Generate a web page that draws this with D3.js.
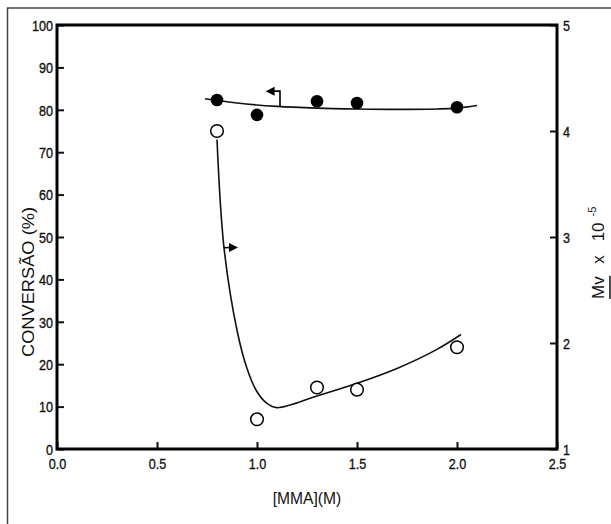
<!DOCTYPE html>
<html>
<head>
<meta charset="utf-8">
<script src="https://cdn.jsdelivr.net/npm/d3@7"></script>
<style>
  body { margin: 0; background: #fff; }
  text { font-family: "Liberation Sans", Arial, sans-serif; fill: #111; }
</style>
</head>
<body>
<script>
// data
const mma = [0.8, 1.0, 1.3, 1.5, 2.0];
const conversao = [82.3, 78.8, 82.0, 81.6, 80.6];
const mvValues = [4.0, 1.28, 1.58, 1.56, 1.96];

// hand drawn trend lines
const convFitX = [0.74, 0.9, 1.1, 1.3, 1.5, 1.7, 1.9, 2.0, 2.1];
const convFitY = [82.6, 81.6, 80.8, 80.4, 80.2, 80.1, 80.2, 80.4, 81.0];
const mvFitX = [0.80, 0.835, 0.90, 0.95, 1.0, 1.05, 1.10, 1.3, 1.5, 1.7, 1.9, 2.02];
const mvFitY = [3.92, 2.9, 2.12, 1.76, 1.54, 1.43, 1.39, 1.5, 1.62, 1.76, 1.94, 2.08];

const xTicks = [0, 0.5, 1.0, 1.5, 2.0, 2.5];
const leftTicks = [0, 10, 20, 30, 40, 50, 60, 70, 80, 90, 100];
const rightTicks = [1, 2, 3, 4, 5];

const width = 611, height = 524;
const margin = { top: 25, right: 54, bottom: 75, left: 57 };
const narrow = 0.84; // fake a condensed face

const svg = d3.select("body").append("svg")
  .attr("width", width)
  .attr("height", height);

// scanned page frame
svg.append("path")
  .attr("d", "M7.5,524 V8 H611")
  .attr("fill", "none")
  .attr("stroke", "#444")
  .attr("stroke-width", 1.5);

const x = d3.scaleLinear().domain([0, 2.5]).range([margin.left, width - margin.right]);
const yL = d3.scaleLinear().domain([0, 100]).range([height - margin.bottom, margin.top]);
const yR = d3.scaleLinear().domain([1, 5]).range([height - margin.bottom, margin.top]);

const x0 = x.range()[0], x1 = x.range()[1];
const yb = yL.range()[0], yt = yL.range()[1];

// axes, ticks inward
const bottom = svg.append("g").attr("transform", `translate(0,${yb})`)
  .call(d3.axisBottom(x).tickValues(xTicks).tickSizeInner(-7).tickSizeOuter(0).tickFormat(d3.format(".1f")));
const left = svg.append("g").attr("transform", `translate(${x0},0)`)
  .call(d3.axisLeft(yL).tickValues(leftTicks).tickSizeInner(-7).tickSizeOuter(0).tickFormat(d3.format("d")));
const right = svg.append("g").attr("transform", `translate(${x1},0)`)
  .call(d3.axisRight(yR).tickValues(rightTicks).tickSizeInner(-7).tickSizeOuter(0).tickFormat(d3.format("d")));

for (const g of [bottom, left, right]) {
  g.select(".domain").remove();
  g.selectAll(".tick line").attr("stroke", "#111").attr("stroke-width", 2);
  g.selectAll(".tick text").attr("font-size", 15).attr("fill", "#111")
    .attr("stroke", "#111").attr("stroke-width", 0.35);
}
bottom.selectAll(".tick text").attr("x", 0).attr("y", 0).attr("dy", "0.35em")
  .attr("transform", `translate(0,15) scale(${narrow},1)`);
left.selectAll(".tick text").attr("x", 0).attr("dy", "0.35em")
  .attr("transform", `translate(-4,0) scale(${narrow},1)`);
right.selectAll(".tick text").attr("x", 0).attr("dy", "0.35em")
  .attr("transform", `translate(6,0) scale(${narrow},1)`);

// plot box
svg.append("rect")
  .attr("x", x0).attr("y", yt)
  .attr("width", x1 - x0).attr("height", yb - yt)
  .attr("fill", "none")
  .attr("stroke", "#000")
  .attr("stroke-width", 3);

// trend lines
const lineL = d3.line().x(d => x(d[0])).y(d => yL(d[1])).curve(d3.curveCatmullRom.alpha(0.5));
const lineR = d3.line().x(d => x(d[0])).y(d => yR(d[1])).curve(d3.curveCatmullRom.alpha(0.5));

svg.append("path")
  .datum(d3.zip(convFitX, convFitY))
  .attr("d", lineL)
  .attr("fill", "none").attr("stroke", "#111").attr("stroke-width", 1.6);

svg.append("path")
  .datum(d3.zip(mvFitX, mvFitY))
  .attr("d", lineR)
  .attr("fill", "none").attr("stroke", "#111").attr("stroke-width", 1.6);

// points
svg.append("g").selectAll("circle")
  .data(d3.zip(mma, conversao))
  .join("circle")
  .attr("cx", d => x(d[0])).attr("cy", d => yL(d[1]))
  .attr("r", 6.3)
  .attr("fill", "#000");

svg.append("g").selectAll("circle")
  .data(d3.zip(mma, mvValues))
  .join("circle")
  .attr("cx", d => x(d[0])).attr("cy", d => yR(d[1]))
  .attr("r", 6.3)
  .attr("fill", "#fff")
  .attr("stroke", "#000")
  .attr("stroke-width", 1.5);

// axis pointer arrows
const arrowUp = [[1.115, 80.7], [1.115, 84.4], [1.06, 84.4]];
svg.append("path")
  .datum(arrowUp)
  .attr("d", d3.line().x(d => x(d[0])).y(d => yL(d[1])))
  .attr("fill", "none").attr("stroke", "#000").attr("stroke-width", 1.6);
{
  const tx = x(1.043), ty = yL(84.4);
  svg.append("path")
    .attr("d", `M${tx},${ty} l9,-4.5 v9 z`)
    .attr("fill", "#000");
}
const arrowDown = [[0.833, 47.5], [0.89, 47.5]];
svg.append("path")
  .datum(arrowDown)
  .attr("d", d3.line().x(d => x(d[0])).y(d => yL(d[1])))
  .attr("fill", "none").attr("stroke", "#000").attr("stroke-width", 1.6);
{
  const tx = x(0.905), ty = yL(47.5);
  svg.append("path")
    .attr("d", `M${tx},${ty} l-9,-4.5 v9 z`)
    .attr("fill", "#000");
}

// axis titles
svg.append("text")
  .attr("transform", `translate(${(x0 + x1) / 2},498) scale(0.92,1)`)
  .attr("dy", "0.35em")
  .attr("text-anchor", "middle")
  .attr("font-size", 17)
  .text("[MMA](M)");

svg.append("text")
  .attr("transform", `translate(28,282) rotate(-90)`)
  .attr("dy", "0.35em")
  .attr("text-anchor", "middle")
  .attr("font-size", 17)
  .attr("textLength", 150)
  .attr("lengthAdjust", "spacingAndGlyphs")
  .text("CONVERSÃO (%)");

const rl = svg.append("g").attr("transform", "translate(598,299) rotate(-90)");
const mv = rl.append("text").attr("x", 0).attr("y", 0).attr("dy", "0.35em").attr("font-size", 17).text("Mv");
const mvBox = mv.node().getBBox();
rl.append("line")
  .attr("x1", mvBox.x).attr("x2", mvBox.x + mvBox.width)
  .attr("y1", mvBox.y + mvBox.height + 2).attr("y2", mvBox.y + mvBox.height + 2)
  .attr("stroke", "#111").attr("stroke-width", 1.5);
const rest = rl.append("text").attr("x", mvBox.width + 12).attr("y", 0).attr("dy", "0.35em").attr("font-size", 17);
rest.append("tspan").text("x");
rest.append("tspan").attr("dx", 14).text("10");
rest.append("tspan").attr("dy", "-0.75em").attr("dx", 6).attr("font-size", 11).text("-5");
</script>
</body>
</html>
